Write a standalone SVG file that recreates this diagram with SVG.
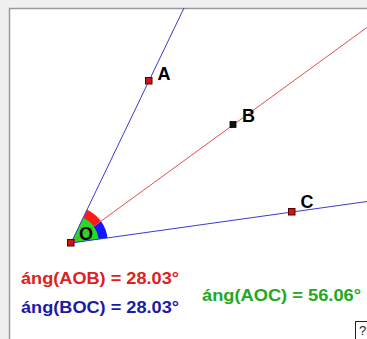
<svg xmlns="http://www.w3.org/2000/svg" width="367" height="339" viewBox="0 0 367 339">
<style>
.lbl{font-family:"Liberation Sans",Arial,sans-serif;font-weight:bold;font-size:18px;fill:#000}
.val{font-family:"Liberation Sans",Arial,sans-serif;font-weight:bold;font-size:17px}
.pt{fill:#cc1515;stroke:#5a0000;stroke-width:1}
</style>
<rect x="0" y="0" width="367" height="339" fill="#f0f0f0"/>
<rect x="9.5" y="8.5" width="370" height="340" fill="#ffffff" stroke="#9a9a9a" stroke-width="1.5"/>
<g id="angles">
<path d="M71,243 L101,221.3 A37,37 0 0,0 87.2,209.7 Z" fill="#ff1a1a"/>
<path d="M71,243 L107.6,237.9 A37,37 0 0,0 101,221.3 Z" fill="#1515ff"/>
<path d="M71,243 L98.7,239.1 A28,28 0 0,0 83.3,217.8 Z" fill="#22dd22"/>
</g>
<g id="connectors" fill="none" stroke-width="1">
<line x1="71" y1="243" x2="184" y2="8" stroke="#3a3ad0"/>
<line x1="71" y1="243" x2="367" y2="27.4" stroke="#e05050"/>
<line x1="71" y1="243" x2="367" y2="201.5" stroke="#3a3ad0"/>
</g>
<g id="O"><rect class="pt" x="67.5" y="239.5" width="6.5" height="6.5"/><text class="lbl" x="79" y="240">O</text></g>
<g id="A"><rect class="pt" x="145.5" y="77.5" width="6.5" height="6.5"/><text class="lbl" x="157.5" y="80">A</text></g>
<g id="B"><rect x="230" y="121.5" width="6" height="6" fill="#111" stroke="#000" stroke-width="0.8"/><text class="lbl" x="242" y="122">B</text></g>
<g id="C"><rect class="pt" x="288.5" y="208.5" width="6.5" height="6.5"/><text class="lbl" x="300.5" y="208">C</text></g>
<g id="measures">
<text class="val" x="21" y="284" fill="#dd2020" textLength="158" lengthAdjust="spacingAndGlyphs">áng(AOB) = 28.03°</text>
<text class="val" x="21" y="313" fill="#1a1aa8" textLength="158" lengthAdjust="spacingAndGlyphs">áng(BOC) = 28.03°</text>
<text class="val" x="202" y="301" fill="#22a822" textLength="159" lengthAdjust="spacingAndGlyphs">áng(AOC) = 56.06°</text>
</g>
<g id="help">
<rect x="355.5" y="321.5" width="20" height="20" fill="#fff" stroke="#222" stroke-width="1"/>
<text x="359" y="335" font-family="Liberation Sans,Arial,sans-serif" font-size="13" fill="#222">?</text>
</g>
</svg>
